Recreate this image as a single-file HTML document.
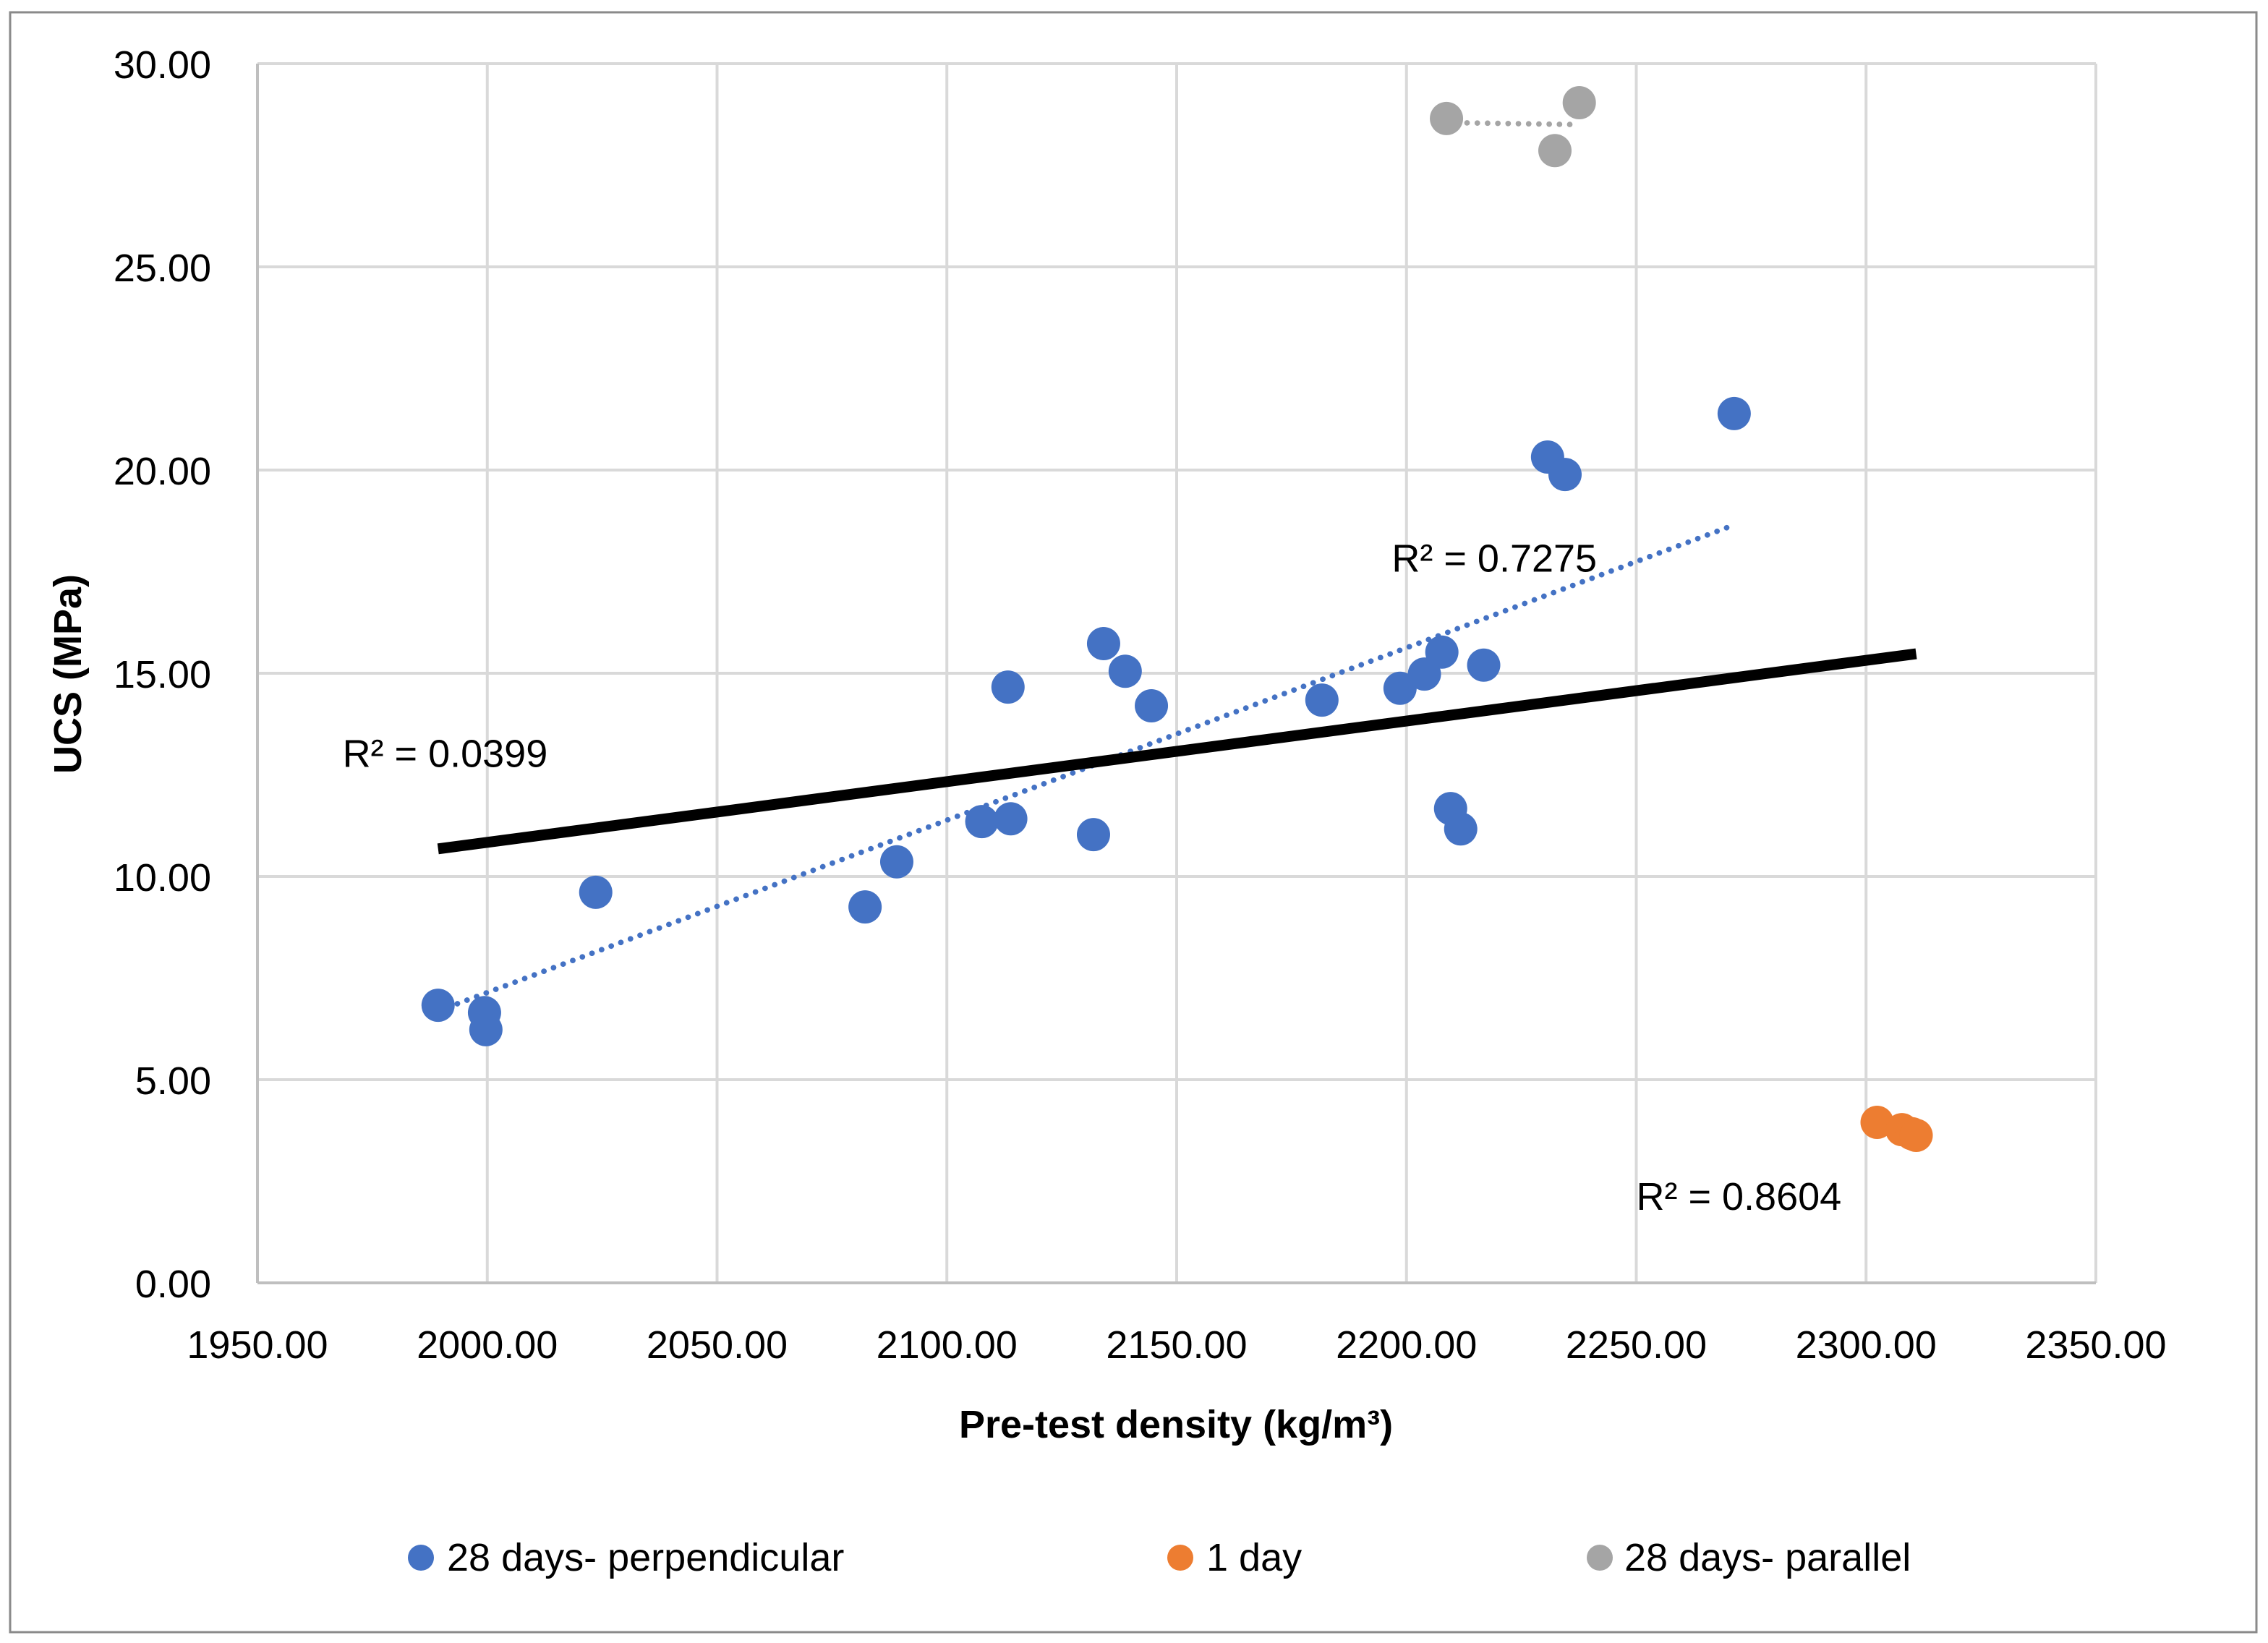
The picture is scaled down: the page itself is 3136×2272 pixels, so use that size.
<!DOCTYPE html>
<html><head><meta charset="utf-8"><style>
html,body{margin:0;padding:0;background:#fff}
svg{display:block}
text{font-family:"Liberation Sans",sans-serif;fill:#000}
</style></head><body>
<svg id="chart" width="3136" height="2272" viewBox="0 0 1568 1136" xmlns="http://www.w3.org/2000/svg">
<rect x="7" y="8.5" width="1553" height="1120" fill="#fff" stroke="#8a8a8a" stroke-width="1.5"/>
<g id="grid"></g>
<g id="trends"></g>
<g id="points"></g>
<g id="labels"></g>
<text transform="translate(56,466) rotate(-90)" text-anchor="middle" font-size="27" font-weight="bold">UCS (MPa)</text>
<text x="813" y="994" text-anchor="middle" font-size="27" font-weight="bold">Pre-test density (kg/m³)</text>
<g>
<circle cx="291" cy="1077" r="9" fill="#4472c4"/>
<text x="309" y="1086" font-size="27">28 days- perpendicular</text>
<circle cx="816" cy="1077" r="9" fill="#ed7d31"/>
<text x="834" y="1086" font-size="27">1 day</text>
<circle cx="1106" cy="1077" r="9" fill="#a5a5a5"/>
<text x="1123" y="1086" font-size="27">28 days- parallel</text>
</g>
</svg>
<script>
const xTicks=[1950,2000,2050,2100,2150,2200,2250,2300,2350];
const yTicks=[0,5,10,15,20,25,30];
const perpX=[1989.3,1999.4,1999.7,2023.6,2082.2,2089.1,2107.6,2113.9,2113.3,2131.9,2134.1,2138.8,2144.5,2181.6,2198.6,2203.9,2207.7,2216.8,2209.6,2211.8,2230.7,2234.5,2271.3];
const perpY=[6.83,6.65,6.23,9.61,9.25,10.36,11.35,11.42,14.66,11.03,15.73,15.05,14.2,14.34,14.63,14.98,15.52,15.2,11.67,11.17,20.32,19.89,21.39];
const dayX=[2302.4,2307.8,2310,2310.9];
const dayY=[3.95,3.77,3.67,3.63];
const parX=[2208.7,2232.3,2237.6];
const parY=[28.65,27.86,29.04];
const allTrendX=[1989.3,2310.9];
const allTrendY=[10.68,15.48];
const perpTrendX=[1989.3,2271.3];
const perpTrendY=[6.69,18.65];
const parTrendX=[2208.7,2237.6];
const parTrendY=[28.55,28.5];
const r2Labels=["R² = 0.0399","R² = 0.7275","R² = 0.8604"];
const r2X=[1968.5,2196.8,2250];
const r2Y=[12.7,17.5,1.8];

const NS="http://www.w3.org/2000/svg";
const X0=178,X1=1449,Y0=887,Y1=44;
const sx=v=>X0+(v-1950)/(2350-1950)*(X1-X0);
const sy=v=>Y0-(v-0)/(30-0)*(Y0-Y1);
function mk(tag,attrs,parent){const e=document.createElementNS(NS,tag);for(const k in attrs)e.setAttribute(k,attrs[k]);parent.appendChild(e);return e;}
const grid=document.getElementById('grid');
xTicks.forEach(t=>{
 const l=mk('line',{x1:sx(t),x2:sx(t),y1:Y1,y2:Y0,stroke:'#d9d9d9','stroke-width':2},grid);
 
 
 const tx=mk('text',{x:sx(t),y:Y0+52,'text-anchor':'middle','font-size':27},grid);
 tx.textContent=t.toFixed(2);
 
 
});
yTicks.forEach(t=>{
 const l=mk('line',{x1:X0,x2:X1,y1:sy(t),y2:sy(t),stroke:t===0?'#bfbfbf':'#d9d9d9','stroke-width':2},grid);
 
 
 const tx=mk('text',{x:146,y:sy(t)+10,'text-anchor':'end','font-size':27},grid);
 tx.textContent=t.toFixed(2);
 
 
});
const axl=mk('line',{x1:X0,x2:X0,y1:Y1,y2:Y0,stroke:'#bfbfbf','stroke-width':2},grid);


const tr=document.getElementById('trends');
function line(xs,ys,attrs,name){const e=mk('line',Object.assign({x1:sx(xs[0]),y1:sy(ys[0]),x2:sx(xs[1]),y2:sy(ys[1])},attrs),tr);}
line(perpTrendX,perpTrendY,{stroke:'#4472c4','stroke-width':3.8,'stroke-dasharray':'0.1 7','stroke-linecap':'round'},'trendline-perpendicular');
line(parTrendX,parTrendY,{stroke:'#a5a5a5','stroke-width':3.8,'stroke-dasharray':'0.1 7','stroke-linecap':'round'},'trendline-parallel');
line(allTrendX,allTrendY,{stroke:'#000','stroke-width':7.5},'trendline-all');
const pts=document.getElementById('points');
function series(xs,ys,color,name){xs.forEach((x,i)=>{const c=mk('circle',{cx:sx(x),cy:sy(ys[i]),r:11.5,fill:color},pts);});}
series(perpX,perpY,'#4472c4','point-perpendicular');
series(dayX,dayY,'#ed7d31','point-1-day');
series(parX,parY,'#a5a5a5','point-parallel');
const lb=document.getElementById('labels');
r2Labels.forEach((s,i)=>{const t=mk('text',{x:sx(r2X[i]),y:sy(r2Y[i]),'font-size':27},lb);t.textContent=s;});
</script>
</body></html>
